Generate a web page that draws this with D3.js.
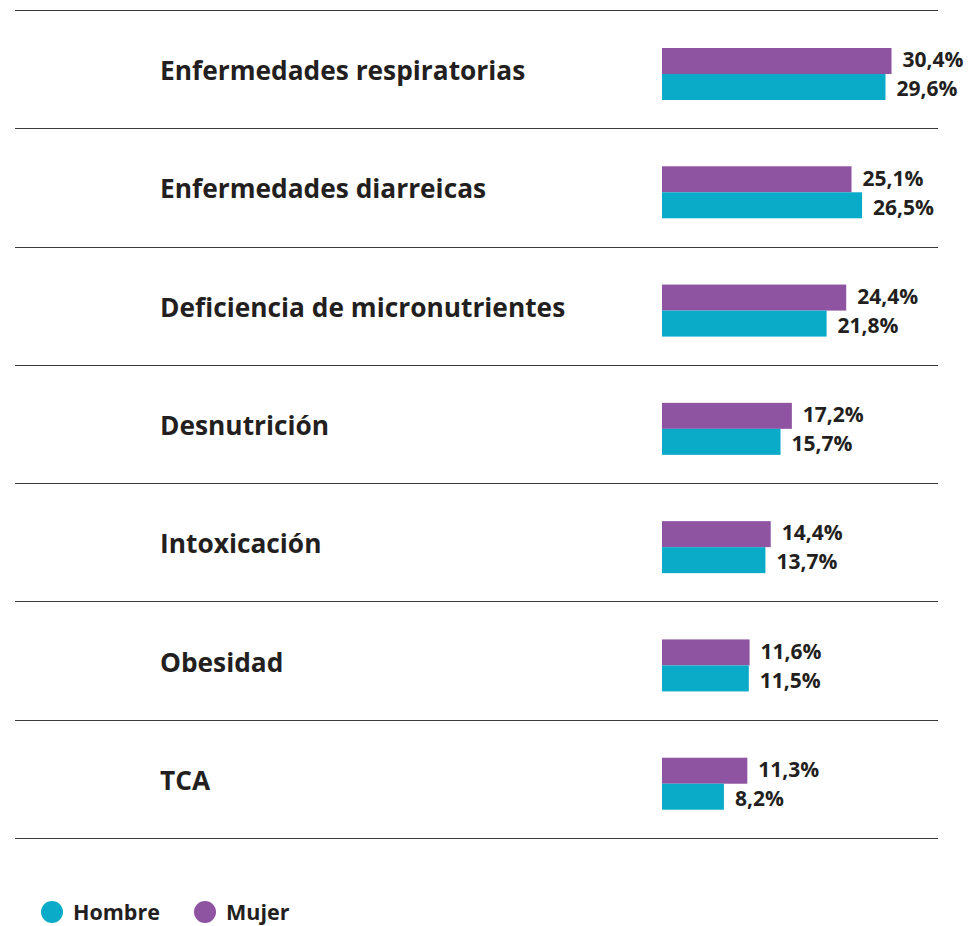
<!DOCTYPE html>
<html>
<head>
<meta charset="utf-8">
<script src="https://cdn.jsdelivr.net/npm/d3@7"></script>
<style>
	body { margin: 0; background: #fff; }
	svg { display: block; }
	text { font-family: 'Open Sans', sans-serif; font-weight: 700; fill: #231f20; }
</style>
</head>
<body>
<svg></svg>
<script>
const categories = [
	'Enfermedades respiratorias',
	'Enfermedades diarreicas',
	'Deficiencia de micronutrientes',
	'Desnutrición',
	'Intoxicación',
	'Obesidad',
	'TCA',
];
const series = ['Mujer', 'Hombre'];
const mujer = [30.4, 25.1, 24.4, 17.2, 14.4, 11.6, 11.3];
const hombre = [29.6, 26.5, 21.8, 15.7, 13.7, 11.5, 8.2];
const legendOrder = ['Hombre', 'Mujer'];

const colorMujer = '#8e53a1';
const colorHombre = '#0aabc9';
const ruleColor = '#3a3a3a';

const width = 970;
const height = 926;

const svg = d3.select('svg')
	.attr('width', width)
	.attr('height', height)
	.attr('viewBox', [0, 0, width, height]);

const y = d3.scaleBand()
	.domain(categories)
	.range([10, 838])
	.paddingInner(0);

const x = d3.scaleLinear()
	.domain([0, 40])
	.range([662, 662 + 302]);

const color = d3.scaleOrdinal()
	.domain(series)
	.range([colorMujer, colorHombre]);

const yInner = d3.scaleBand()
	.domain(series)
	.range([38, 90])
	.paddingInner(0);

// small nudge so the two stacked labels don't collide
const labelShift = { Mujer: -1, Hombre: 2 };

const fmt = (v) => d3.format('.1f')(v).replace('.', ',') + '%';

// horizontal rules between rows
const rules = [...categories.map(c => y(c)), y.range()[1]];
svg.append('g')
	.selectAll('line')
	.data(rules)
	.enter()
		.append('line')
		.attr('x1', 15)
		.attr('x2', 938)
		.attr('y1', d => Math.round(d) + 0.5)
		.attr('y2', d => Math.round(d) + 0.5)
		.attr('stroke', ruleColor)
		.attr('stroke-width', 1.2);

const rows = categories.map((c, i) => ({
	name: c,
	values: [
		{ key: 'Mujer', value: mujer[i] },
		{ key: 'Hombre', value: hombre[i] },
	],
}));

const row = svg.append('g')
	.selectAll('g')
	.data(rows)
	.enter()
		.append('g')
		.attr('transform', d => `translate(0, ${y(d.name)})`);

row.append('text')
	.text(d => d.name)
	.attr('x', 160)
	.attr('y', 61)
	.attr('dy', '0.35em')
	.style('font-size', '26.3px');

row.selectAll('rect')
	.data(d => d.values)
	.enter()
		.append('rect')
		.attr('x', x(0))
		.attr('y', d => yInner(d.key))
		.attr('width', d => x(d.value) - x(0))
		.attr('height', yInner.bandwidth())
		.attr('fill', d => color(d.key));

row.selectAll('text.val')
	.data(d => d.values)
	.enter()
		.append('text')
		.attr('class', 'val')
		.text(d => fmt(d.value))
		.attr('x', d => x(d.value) + 11)
		.attr('y', d => yInner(d.key) + yInner.bandwidth() / 2 + labelShift[d.key])
		.attr('dy', '0.35em')
		.style('font-size', '21px');

// legend
const legend = svg.append('g')
	.selectAll('g')
	.data(legendOrder)
	.enter()
		.append('g')
		.attr('transform', (d, i) => `translate(${52 + i * 153}, 912)`);

legend.append('circle')
	.attr('r', 11)
	.attr('fill', d => color(d));

legend.append('text')
	.text(d => d)
	.attr('x', 21)
	.attr('dy', '0.35em')
	.style('font-size', '21.5px');
</script>
</body>
</html>
